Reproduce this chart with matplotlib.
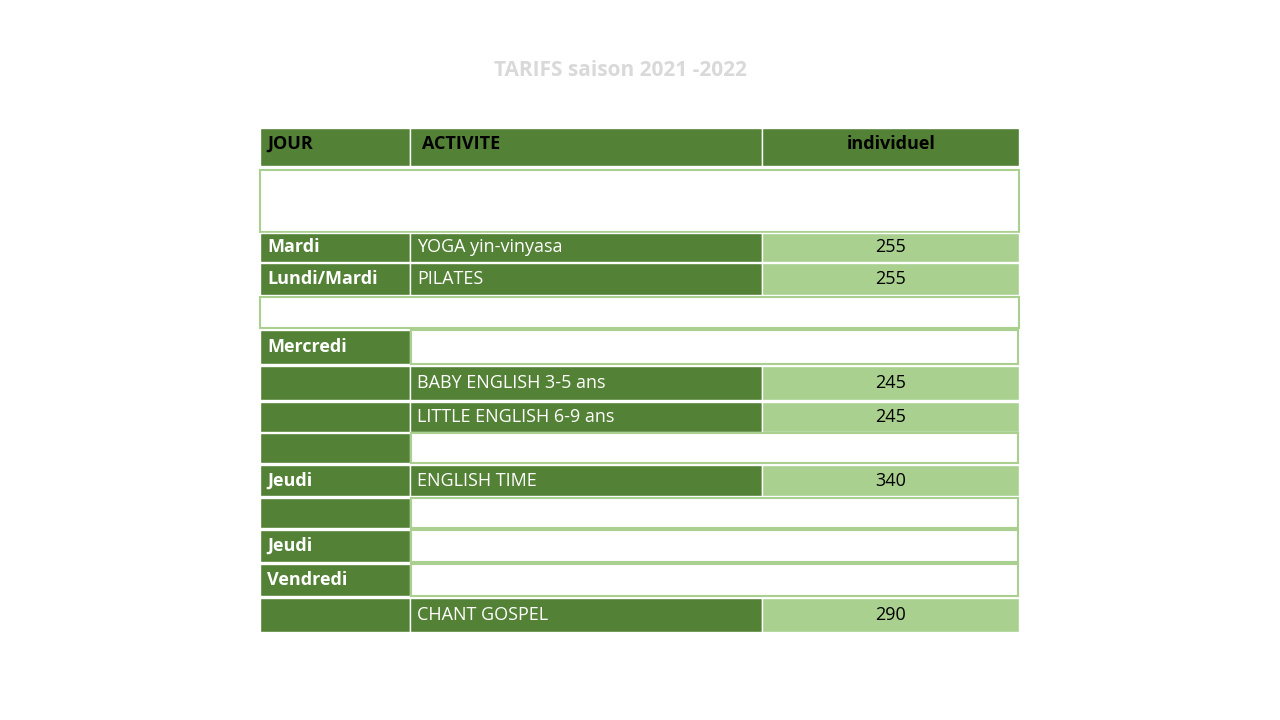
import matplotlib
matplotlib.use("Agg")
import matplotlib.pyplot as plt
from matplotlib.patches import Rectangle

title = "TARIFS saison 2021 -2022"
headers = ["JOUR", "ACTIVITE", "individuel"]
jours = ["", "Mardi", "Lundi/Mardi", "", "Mercredi", "", "", "", "Jeudi", "", "Jeudi", "Vendredi", ""]
activites = ["", "YOGA yin-vinyasa", "PILATES", "", "", "BABY ENGLISH 3-5 ans",
             "LITTLE ENGLISH 6-9 ans", "", "ENGLISH TIME", "", "", "", "CHANT GOSPEL"]
tarifs = ["", "255", "255", "", "", "245", "245", "", "340", "", "", "", "290"]
# row kind: 'blank' full white, 'day' green first col + white rest, 'data' full colored
kinds = ["blank", "data", "data", "blank", "day", "data", "data", "day", "data", "day", "day", "day", "data"]
row_tops = [170, 233, 263, 297, 330, 366, 402, 433, 465, 498, 530, 564, 598]
row_bots = [232, 262, 295, 328, 364, 400, 432, 463, 496, 528, 562, 596, 632]

DARK = "#538135"
LIGHT = "#A9D08E"
xs = [260, 410, 762, 1019]

fig = plt.figure(figsize=(12.8, 7.2), dpi=100)
ax = fig.add_axes([0, 0, 1, 1])
ax.set_xlim(0, 1280); ax.set_ylim(720, 0); ax.axis("off")
font = "Open Sans"

ax.text(620, 70, title, ha="center", va="center", color="#D9D9D9", fontsize=15,
        fontweight="bold", family=font)

def cell(x0, x1, y0, y1, color):
    ax.add_patch(Rectangle((x0, y0), x1 - x0, y1 - y0, facecolor=color, edgecolor="white", lw=1))

# header
for i in range(3):
    cell(xs[i], xs[i + 1], 128, 166, DARK)
ax.text(267, 144, headers[0], va="center", ha="left", fontsize=13, fontweight="bold", family=font)
ax.text(422, 144, headers[1], va="center", ha="left", fontsize=13, fontweight="bold", family=font)
ax.text(891, 144, headers[2], va="center", ha="center", fontsize=13, fontweight="bold", family=font)

for j, k, a, t, y0, y1 in zip(jours, kinds, activites, tarifs, row_tops, row_bots):
    ym = (y0 + y1) / 2
    if k == "blank":
        ax.add_patch(Rectangle((xs[0], y0), xs[3] - xs[0], y1 - y0, facecolor="white",
                               edgecolor="#A9D08E", lw=1.5))
        continue
    cell(xs[0], xs[1], y0, y1, DARK)
    if k == "day":
        ax.add_patch(Rectangle((xs[1] + 1, y0), xs[3] - xs[1] - 2, y1 - y0, facecolor="white",
                               edgecolor="#A9D08E", lw=1.5))
    else:
        cell(xs[1], xs[2], y0, y1, DARK)
        cell(xs[2], xs[3], y0, y1, LIGHT)
        ax.text(417, ym, a, va="center", ha="left", color="white", fontsize=13, family=font)
        ax.text(891, ym, t, va="center", ha="center", color="black", fontsize=13, family=font)
    if j:
        ax.text(267, ym, j, va="center", ha="left", color="white", fontsize=13,
                fontweight="bold", family=font)

fig.savefig("out.png", dpi=100)
